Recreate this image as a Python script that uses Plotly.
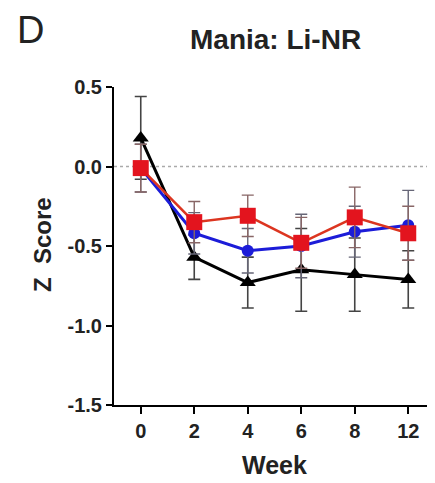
import plotly.graph_objects as go

weeks = ["0", "2", "4", "6", "8", "12"]
x_pos = [0, 1, 2, 3, 4, 5]

black_vals = [0.18, -0.57, -0.73, -0.65, -0.68, -0.71]
black_err = [0.26, 0.14, 0.16, 0.26, 0.23, 0.18]

blue_vals = [-0.01, -0.42, -0.53, -0.50, -0.41, -0.37]
blue_err = [0.15, 0.13, 0.14, 0.20, 0.16, 0.22]

red_vals = [-0.01, -0.35, -0.31, -0.48, -0.32, -0.42]
red_err = [0.15, 0.13, 0.13, 0.16, 0.19, 0.17]

yticks = [0.5, 0.0, -0.5, -1.0, -1.5]
ytick_text = ["0.5", "0.0", "-0.5", "-1.0", "-1.5"]

FONT = "Liberation Sans"
W, H = 435, 483
OFF = 8  # page body margin
L, R, T, B = 114 - OFF, OFF, 87 - OFF, 483 - 405 + OFF
PW, PH = W - L - R, H - T - B


def px(x, y):
    """page pixel -> paper coords"""
    fx, fy = x - OFF, y - OFF
    return (fx - L) / PW, (H - fy - B) / PH


fig = go.Figure()

fig.add_trace(go.Scatter(
    x=x_pos, y=black_vals, mode="lines+markers",
    line=dict(color="black", width=3),
    marker=dict(symbol="triangle-up", size=14, color="black"),
    error_y=dict(type="data", array=black_err, color="#444444", thickness=1.6, width=6),
    showlegend=False))

fig.add_trace(go.Scatter(
    x=x_pos, y=blue_vals, mode="lines+markers",
    line=dict(color="#1c1cd8", width=3),
    marker=dict(symbol="circle", size=12, color="#1c1cd8"),
    error_y=dict(type="data", array=blue_err, color="#666677", thickness=1.4, width=6),
    showlegend=False))

fig.add_trace(go.Scatter(
    x=x_pos, y=red_vals, mode="lines+markers",
    line=dict(color="#dc3520", width=2.5),
    marker=dict(symbol="square", size=16, color="#e3141e"),
    error_y=dict(type="data", array=red_err, color="#886666", thickness=1.4, width=6),
    showlegend=False))

fig.add_hline(y=0, line=dict(color="#aaaaaa", width=1.5, dash="dot"), layer="below")

ann = []
for text, x, y, size in [("<b>Mania: Li-NR</b>", 275, 40, 28),
                         ("D", 30, 30, 38),
                         ("<b>Week</b>", 274, 465, 25)]:
    ax, ay = px(x, y)
    ann.append(dict(text=text, x=ax, y=ay, xref="paper", yref="paper",
                    xanchor="center", yanchor="middle", showarrow=False,
                    font=dict(family=FONT, size=size, color="#222222")))
ax, ay = px(42, 245)
ann.append(dict(text="<b>Z  Score</b>", x=ax, y=ay, xref="paper", yref="paper",
                xanchor="center", yanchor="middle", showarrow=False, textangle=-90,
                font=dict(family=FONT, size=24, color="#222222")))

fig.update_layout(
    width=W, height=H,
    margin=dict(l=L, r=R, t=T, b=B),
    plot_bgcolor="white", paper_bgcolor="white",
    font=dict(family=FONT, color="#222222"),
    xaxis=dict(
        range=[-0.5, 5.5], tickvals=x_pos, ticktext=weeks,
        showline=True, linecolor="black", linewidth=2,
        ticks="outside", ticklen=7, tickwidth=2, tickcolor="black",
        showgrid=False, zeroline=False,
        tickfont=dict(family=FONT, size=20, color="#222222", weight="bold"),
    ),
    yaxis=dict(
        range=[-1.5, 0.5], tickvals=yticks, ticktext=ytick_text,
        showline=True, linecolor="black", linewidth=2,
        ticks="outside", ticklen=6, tickwidth=2, tickcolor="black",
        showgrid=False, zeroline=False,
        tickfont=dict(family=FONT, size=20, color="#222222", weight="bold"),
    ),
    annotations=ann,
)

fig.write_html("out.html")
